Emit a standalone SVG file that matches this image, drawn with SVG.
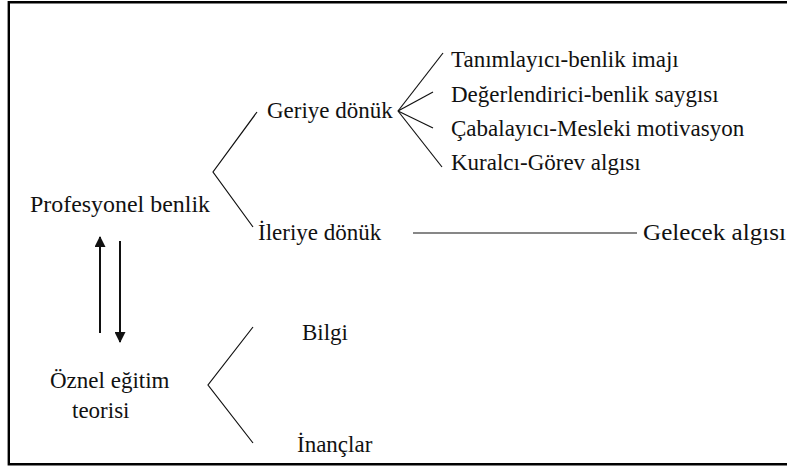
<svg xmlns="http://www.w3.org/2000/svg" width="787" height="468" viewBox="0 0 787 468">
  <defs>
    <style>
      .t { font-family: "Times New Roman", Times, "Liberation Serif", Tinos, "Noto Serif", "DejaVu Serif", serif; font-size: 23px; fill: #111; }
      .ln { stroke: #111; stroke-width: 1.2; fill: none; }
      .arr { stroke: #111; stroke-width: 2; fill: none; }
      .frame { stroke: #000; stroke-width: 2.4; fill: none; }
    </style>
    <marker id="head" viewBox="0 0 10 10" refX="9" refY="5" markerWidth="6" markerHeight="5.5" orient="auto" markerUnits="strokeWidth">
      <path d="M0,0 L10,5 L0,10 z" fill="#111"/>
    </marker>
  </defs>

  <rect width="787" height="468" fill="#fff"/>
  <!-- open frame: top, left and bottom sides -->
  <path class="frame" d="M787,2.2 H8.8 V464.2 H787"/>

  <g id="connectors">
    <polyline class="ln" points="257,112 213,172 253,227"/>
    <line class="ln" x1="398" y1="111" x2="443" y2="53"/>
    <line class="ln" x1="398" y1="111" x2="433" y2="92"/>
    <line class="ln" x1="398" y1="111" x2="433" y2="128"/>
    <line class="ln" x1="398" y1="111" x2="442" y2="167"/>
    <line class="ln" x1="413" y1="233" x2="637" y2="233"/>
    <polyline class="ln" points="253,327 208,385 253,443"/>
    <line class="arr" x1="100" y1="333" x2="100" y2="237" marker-end="url(#head)"/>
    <line class="arr" x1="120" y1="241" x2="120" y2="342" marker-end="url(#head)"/>
  </g>

  <g id="profesyonel-benlik"><text class="t" x="30" y="212" textLength="180" lengthAdjust="spacingAndGlyphs">Profesyonel benlik</text></g>
  <g id="geriye-donuk"><text class="t" x="267" y="118">Geriye dönük</text></g>
  <g id="ileriye-donuk"><text class="t" x="258" y="240">İleriye dönük</text></g>
  <g id="tanimlayici"><text class="t" x="451" y="67">Tanımlayıcı-benlik imajı</text></g>
  <g id="degerlendirici"><text class="t" x="451" y="101.5">Değerlendirici-benlik saygısı</text></g>
  <g id="cabalayici"><text class="t" x="451" y="136">Çabalayıcı-Mesleki motivasyon</text></g>
  <g id="kuralci"><text class="t" x="451" y="170">Kuralcı-Görev algısı</text></g>
  <g id="gelecek-algisi"><text class="t" x="643" y="240" textLength="143" lengthAdjust="spacingAndGlyphs">Gelecek algısı</text></g>
  <g id="oznel-egitim-teorisi">
    <text class="t" x="50" y="388">Öznel eğitim</text>
    <text class="t" x="72" y="418">teorisi</text>
  </g>
  <g id="bilgi"><text class="t" x="302" y="340">Bilgi</text></g>
  <g id="inanclar"><text class="t" x="297" y="452">İnançlar</text></g>
</svg>
